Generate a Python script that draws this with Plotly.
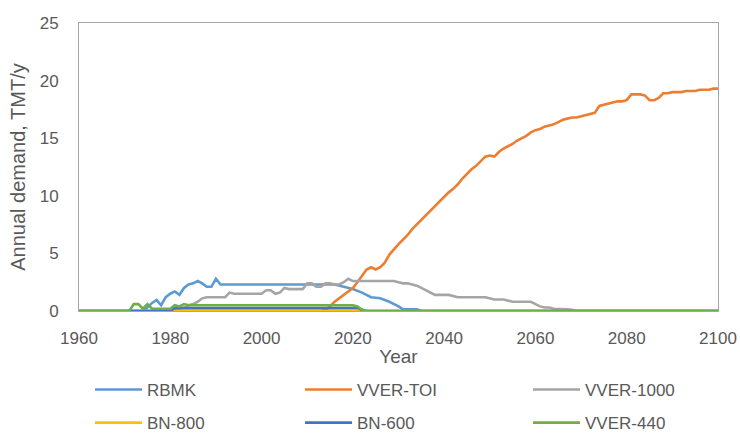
import plotly.graph_objects as go

# Annual fuel demand by reactor type, TMT/y
rbmk_year = [1960, 1974, 1975, 1976, 1977, 1978, 1979, 1980, 1981, 1982, 1983, 1984, 1985,
             1986, 1987, 1988, 1989, 1990, 1991, 2016, 2018, 2020, 2022, 2024, 2026, 2028,
             2030, 2031, 2034, 2035, 2100]
rbmk_val = [0, 0, 0.3, 0.7, 0.95, 0.5, 1.2, 1.5, 1.7, 1.4, 2.0, 2.3, 2.4,
            2.6, 2.4, 2.1, 2.1, 2.8, 2.3, 2.3, 2.1, 1.9, 1.6, 1.2, 1.1, 0.8,
            0.4, 0.15, 0.15, 0, 0]

toi_year = [1960] + list(range(2013, 2101))
toi_val = [0,
           0, 0.1, 0.4, 0.8, 1.1, 1.4, 1.7, 2.0, 2.5, 3.0,
           3.6, 3.8, 3.6, 3.8, 4.2, 4.9, 5.4, 5.8, 6.2, 6.6,
           7.1, 7.5, 7.9, 8.3, 8.7, 9.1, 9.5, 9.9, 10.3, 10.6,
           11.0, 11.5, 11.9, 12.3, 12.6, 13.0, 13.4, 13.5, 13.4, 13.8,
           14.1, 14.3, 14.5, 14.8, 15.0, 15.2, 15.5, 15.7, 15.8, 16.0,
           16.1, 16.2, 16.4, 16.6, 16.7, 16.8, 16.8, 16.9, 17.0, 17.1,
           17.2, 17.8, 17.9, 18.0, 18.1, 18.2, 18.2, 18.3, 18.8, 18.8,
           18.8, 18.7, 18.3, 18.3, 18.5, 18.9, 18.9, 19.0, 19.0, 19.0,
           19.1, 19.1, 19.1, 19.2, 19.2, 19.2, 19.3, 19.3]

v1000_year = [1960, 1981, 1982, 1983, 1984, 1985, 1986, 1987, 1988, 1992,
              1993, 1994, 2000, 2001, 2002, 2003, 2004, 2005, 2006, 2009,
              2010, 2011, 2012, 2013, 2014, 2015, 2016, 2017, 2018, 2019,
              2020, 2029, 2030, 2031, 2032, 2033, 2034, 2035, 2036, 2037,
              2038, 2041, 2042, 2043, 2049, 2050, 2051, 2053, 2054, 2055,
              2059, 2060, 2061, 2062, 2063, 2064, 2066, 2067, 2068, 2069,
              2100]
v1000_val = [0, 0, 0.2, 0.3, 0.5, 0.6, 0.8, 1.1, 1.2, 1.2,
             1.6, 1.5, 1.5, 1.8, 1.8, 1.5, 1.6, 2.0, 1.9, 1.9,
             2.4, 2.4, 2.1, 2.1, 2.4, 2.4, 2.3, 2.3, 2.5, 2.8,
             2.6, 2.6, 2.5, 2.4, 2.4, 2.3, 2.2, 2.0, 1.8, 1.6,
             1.4, 1.4, 1.3, 1.2, 1.2, 1.1, 1.0, 1.0, 0.9, 0.8,
             0.8, 0.6, 0.4, 0.3, 0.3, 0.2, 0.2, 0.15, 0.1, 0,
             0]

bn800_year = [1960, 2100]
bn800_val = [0, 0]

bn600_year = [1960, 1980, 1981, 2021, 2022, 2023, 2100]
bn600_val = [0, 0, 0.25, 0.25, 0.1, 0, 0]

v440_year = [1960, 1971, 1972, 1973, 1974, 1975, 1976, 1980, 1981, 1982, 1983, 1984,
             2020, 2021, 2022, 2023, 2100]
v440_val = [0, 0, 0.6, 0.6, 0.2, 0.6, 0.2, 0.2, 0.5, 0.4, 0.6, 0.5,
            0.5, 0.4, 0.1, 0, 0]

x_ticks = [1960, 1980, 2000, 2020, 2040, 2060, 2080, 2100]
y_ticks = [0, 5, 10, 15, 20, 25]

# name, x, y, colour, legend column, legend row
series = [
    ("RBMK", rbmk_year, rbmk_val, "#5B9BD5", 0, 0),
    ("VVER-TOI", toi_year, toi_val, "#ED7D31", 1, 0),
    ("VVER-1000", v1000_year, v1000_val, "#A5A5A5", 2, 0),
    ("BN-800", bn800_year, bn800_val, "#FFC000", 0, 1),
    ("BN-600", bn600_year, bn600_val, "#4472C4", 1, 1),
    ("VVER-440", v440_year, v440_val, "#70AD47", 2, 1),
]

FONT = "Liberation Sans, Arial, sans-serif"
TXT = "#595959"

col_x = [0.0172, 0.3459, 0.7027]
row_y = [-0.274, -0.389]

fig = go.Figure()
legends = {}
for i, (name, xs, ys, color, col, row) in enumerate(series):
    leg = "legend" if i == 0 else f"legend{i + 1}"
    fig.add_trace(go.Scatter(
        x=xs, y=ys, name=name, mode="lines",
        line=dict(color=color, width=2.6),
        legend=leg, showlegend=True,
    ))
    legends[leg] = dict(
        x=col_x[col], y=row_y[row], xanchor="left", yanchor="middle",
        orientation="h", itemwidth=47,
        font=dict(family=FONT, size=17, color=TXT),
        bgcolor="rgba(0,0,0,0)", borderwidth=0,
    )

fig.update_layout(
    width=740, height=434,
    showlegend=True,
    margin=dict(l=79, r=22, t=23, b=123, autoexpand=False),
    paper_bgcolor="white", plot_bgcolor="white",
    font=dict(family=FONT, color=TXT),
    xaxis=dict(
        range=[1960, 2100], tickvals=x_ticks, ticks="",
        showgrid=False, zeroline=False,
        showline=True, mirror=True, linecolor="#A6A6A6", linewidth=1,
        tickfont=dict(family=FONT, size=17, color=TXT),
        ticklabelstandoff=12,
        title=dict(text="Year", font=dict(family=FONT, size=19, color=TXT), standoff=2),
    ),
    yaxis=dict(
        range=[0, 25], tickvals=y_ticks, ticks="",
        showgrid=False, zeroline=False,
        showline=True, mirror=True, linecolor="#A6A6A6", linewidth=1,
        tickfont=dict(family=FONT, size=17, color=TXT),
        ticklabelstandoff=16,
        title=dict(text="Annual demand, TMT/y", font=dict(family=FONT, size=20, color=TXT), standoff=8),
    ),
    **legends,
)

fig.write_html("out.html")
